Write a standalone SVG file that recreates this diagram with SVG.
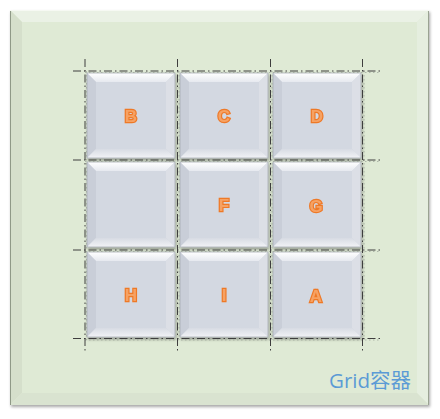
<svg xmlns="http://www.w3.org/2000/svg" xmlns:xlink="http://www.w3.org/1999/xlink" width="440" height="419" viewBox="0 0 440 419">
  <style>
    .lbl { font-family: "Liberation Sans", "DejaVu Sans", sans-serif; font-weight: bold; font-size: 17px; fill: #F6A264; stroke: #EE7928; stroke-width: 2.4px; paint-order: stroke; text-anchor: middle; }
    .gl { stroke: #3E3E3E; stroke-width: 1; stroke-dasharray: 8 3 1.5 3; fill: none; }
    .gl2 { stroke: #9AA296; stroke-width: 0.7; stroke-dasharray: 1.5 2.5; fill: none; }
    .title { font-family: "Open Sans", "Noto Sans CJK SC", sans-serif; font-size: 20.5px; fill: #5B9BD5; }
  </style>
  <defs>
    <filter id="shadow" x="-10%" y="-10%" width="130%" height="130%">
      <feGaussianBlur in="SourceAlpha" stdDeviation="1.5"/>
      <feOffset dx="1" dy="2" result="b"/>
      <feComponentTransfer><feFuncA type="linear" slope="0.35"/></feComponentTransfer>
      <feMerge><feMergeNode/><feMergeNode in="SourceGraphic"/></feMerge>
    </filter>
    <linearGradient id="topB" x1="0" y1="0" x2="0" y2="1">
      <stop offset="0" stop-color="#FFFFFF"/>
      <stop offset="1" stop-color="#E6E9EF"/>
    </linearGradient>
    <linearGradient id="botB" x1="0" y1="0" x2="0" y2="1">
      <stop offset="0" stop-color="#D7DBE3"/>
      <stop offset="1" stop-color="#F2F3F6"/>
    </linearGradient>
    <g id="cell">
      <rect x="0" y="0" width="88" height="85" fill="#D3D8E1"/>
      <polygon points="0,0 88,0 79,9 9,9" fill="url(#topB)"/>
      <polygon points="0,0 9,9 9,76 0,85" fill="#C9CED8"/>
      <polygon points="88,0 88,85 79,76 79,9" fill="#DCDFE6"/>
      <polygon points="0,85 9,76 79,76 88,85" fill="url(#botB)"/>
      <rect x="0" y="0" width="88" height="85" fill="none" stroke="#A7ACB5" stroke-width="0.8"/>
    </g>
  </defs>

  <g id="container" filter="url(#shadow)">
    <rect x="10" y="10" width="419" height="395" fill="#DFEAD5"/>
    <polygon points="10,10 429,10 417,22 22,22" fill="#EAF1E5"/>
    <polygon points="10,10 22,22 22,393 10,405" fill="#D5DFCB"/>
    <polygon points="429,10 429,405 417,393 417,22" fill="#E5EEDF"/>
    <polygon points="10,405 22,393 417,393 429,405" fill="#D9E3D0"/>
    <rect x="22" y="22" width="395" height="371" fill="#DFEAD5"/>
    <line x1="10.5" y1="10" x2="10.5" y2="405" stroke="#8F9987" stroke-width="1"/>
    <line x1="428.5" y1="10" x2="428.5" y2="405" stroke="#9AA392" stroke-width="1"/>
    <line x1="10" y1="10.5" x2="429" y2="10.5" stroke="#F6F9F3" stroke-width="1"/>
  </g>

  <g id="cell-B" filter="url(#shadow)"><use xlink:href="#cell" x="87" y="73"/><text class="lbl" x="131" y="122">B</text></g>
  <g id="cell-C" filter="url(#shadow)"><use xlink:href="#cell" x="180" y="73"/><text class="lbl" x="224" y="122">C</text></g>
  <g id="cell-D" filter="url(#shadow)"><use xlink:href="#cell" x="273" y="73"/><text class="lbl" x="317" y="122">D</text></g>
  <g id="cell-E" filter="url(#shadow)"><use xlink:href="#cell" x="87" y="162"/></g>
  <g id="cell-F" filter="url(#shadow)"><use xlink:href="#cell" x="180" y="162"/><text class="lbl" x="224" y="211">F</text></g>
  <g id="cell-G" filter="url(#shadow)"><use xlink:href="#cell" x="273" y="162"/><text class="lbl" x="316" y="212">G</text></g>
  <g id="cell-H" filter="url(#shadow)"><use xlink:href="#cell" x="87" y="252"/><text class="lbl" x="131" y="301">H</text></g>
  <g id="cell-I" filter="url(#shadow)"><use xlink:href="#cell" x="180" y="252"/><text class="lbl" x="224" y="301">I</text></g>
  <g id="cell-A" filter="url(#shadow)"><use xlink:href="#cell" x="273" y="252"/><text class="lbl" x="316" y="302">A</text></g>

  <g id="connectors">
    <line class="gl2" x1="86.5" y1="71" x2="86.5" y2="340"/>
    <line class="gl2" x1="179" y1="71" x2="179" y2="340"/>
    <line class="gl2" x1="272" y1="71" x2="272" y2="340"/>
    <line class="gl2" x1="364" y1="71" x2="364" y2="340"/>
    <line class="gl2" x1="85" y1="72.5" x2="380" y2="72.5"/>
    <line class="gl2" x1="85" y1="161.5" x2="380" y2="161.5"/>
    <line class="gl2" x1="85" y1="251.5" x2="380" y2="251.5"/>
    <line class="gl2" x1="85" y1="340" x2="380" y2="340"/>
    <line class="gl" x1="85" y1="59" x2="85" y2="352"/>
    <line class="gl" x1="177.5" y1="59" x2="177.5" y2="352"/>
    <line class="gl" x1="270.5" y1="59" x2="270.5" y2="352"/>
    <line class="gl" x1="362.5" y1="59" x2="362.5" y2="352"/>
    <line class="gl" x1="73" y1="71" x2="380" y2="71"/>
    <line class="gl" x1="73" y1="160" x2="380" y2="160"/>
    <line class="gl" x1="73" y1="250" x2="380" y2="250"/>
    <line class="gl" x1="73" y1="338.5" x2="380" y2="338.5"/>
  </g>

  <text class="title" x="329" y="388">Grid容器</text>
</svg>
